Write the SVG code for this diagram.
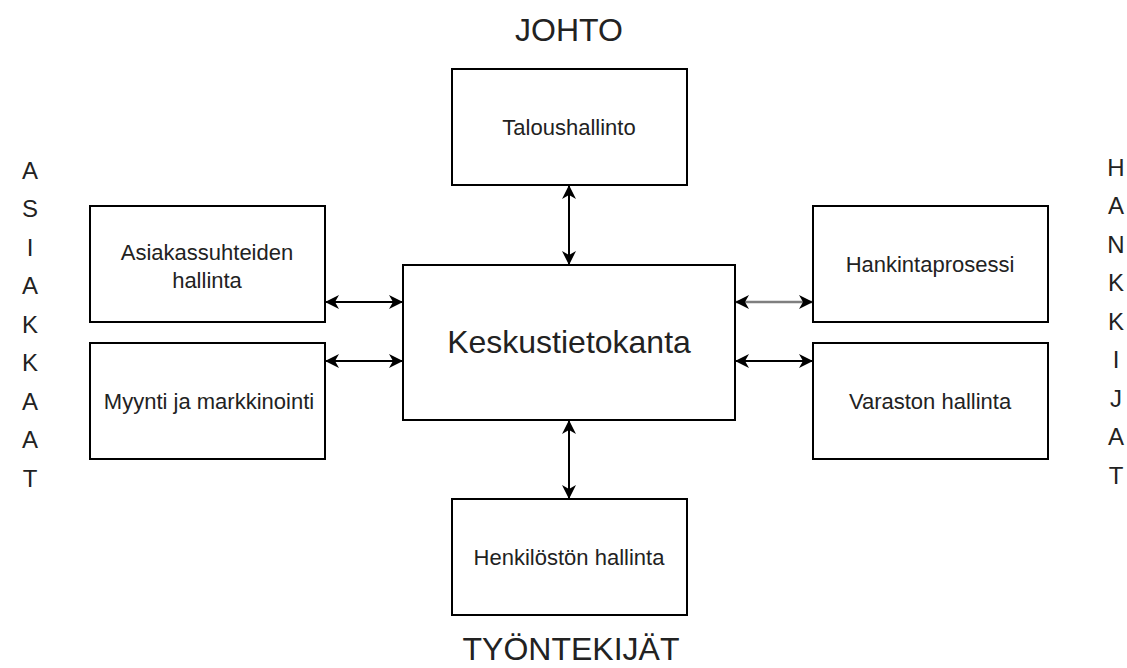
<svg xmlns="http://www.w3.org/2000/svg" width="1127" height="668" viewBox="0 0 1127 668">
  <style>
    .box { fill: #ffffff; stroke: #000000; stroke-width: 2; }
    .lbl { font-family: "Liberation Sans", Arial, sans-serif; fill: #222222; text-anchor: middle; }
    .small { font-size: 22px; }
    .big { font-size: 32px; }
    .side { font-size: 24px; }
    .link { fill: none; stroke: #000000; stroke-width: 2; marker-start: url(#head); marker-end: url(#head); }
    .link.grey { stroke: #7f7f7f; stroke-width: 2.5; }
  </style>
  <defs>
    <marker id="head" viewBox="0 0 14 14" refX="13" refY="7" markerWidth="14" markerHeight="14" markerUnits="userSpaceOnUse" orient="auto-start-reverse">
      <path d="M0,0 L14,7 L0,14 L4,7 z" fill="#000000"/>
    </marker>
  </defs>
  <rect width="1127" height="668" fill="#ffffff"/>

  <!-- outer labels -->
  <g id="labels">
    <text class="lbl big" x="569" y="41">JOHTO</text>
    <text class="lbl big" x="571" y="660">TYÖNTEKIJÄT</text>
    <text class="lbl side" x="30" y="179">A</text>
    <text class="lbl side" x="30" y="217">S</text>
    <text class="lbl side" x="30" y="256">I</text>
    <text class="lbl side" x="30" y="294">A</text>
    <text class="lbl side" x="30" y="333">K</text>
    <text class="lbl side" x="30" y="371">K</text>
    <text class="lbl side" x="30" y="410">A</text>
    <text class="lbl side" x="30" y="448">A</text>
    <text class="lbl side" x="30" y="487">T</text>
    <text class="lbl side" x="1116" y="176">H</text>
    <text class="lbl side" x="1116" y="214">A</text>
    <text class="lbl side" x="1116" y="253">N</text>
    <text class="lbl side" x="1116" y="291">K</text>
    <text class="lbl side" x="1116" y="330">K</text>
    <text class="lbl side" x="1116" y="368">I</text>
    <text class="lbl side" x="1116" y="407">J</text>
    <text class="lbl side" x="1116" y="445">A</text>
    <text class="lbl side" x="1116" y="484">T</text>
  </g>

  <g id="connectors">
    <line class="link" x1="569" y1="186" x2="569" y2="264"/>
    <line class="link" x1="569" y1="421" x2="569" y2="498"/>
    <line class="link" x1="326" y1="302" x2="402" y2="302"/>
    <line class="link" x1="326" y1="361" x2="402" y2="361"/>
    <line class="link grey" x1="736" y1="302" x2="812" y2="302"/>
    <line class="link" x1="736" y1="361" x2="812" y2="361"/>
  </g>

  <g id="central">
    <rect class="box" x="403" y="265" width="332" height="155"/>
    <text class="lbl big" x="569" y="353">Keskustietokanta</text>
  </g>
  <g id="talous">
    <rect class="box" x="452" y="69" width="235" height="116"/>
    <text class="lbl small" x="569" y="135">Taloushallinto</text>
  </g>
  <g id="asiakas">
    <rect class="box" x="90" y="206" width="235" height="116"/>
    <text class="lbl small" x="207" y="260">Asiakassuhteiden</text>
    <text class="lbl small" x="207" y="288">hallinta</text>
  </g>
  <g id="myynti">
    <rect class="box" x="90" y="343" width="235" height="116"/>
    <text class="lbl small" x="209" y="409">Myynti ja markkinointi</text>
  </g>
  <g id="hankinta">
    <rect class="box" x="813" y="206" width="235" height="116"/>
    <text class="lbl small" x="930" y="272">Hankintaprosessi</text>
  </g>
  <g id="varasto">
    <rect class="box" x="813" y="343" width="235" height="116"/>
    <text class="lbl small" x="930" y="409">Varaston hallinta</text>
  </g>
  <g id="henkilosto">
    <rect class="box" x="452" y="499" width="235" height="116"/>
    <text class="lbl small" x="569" y="565">Henkilöstön hallinta</text>
  </g>
</svg>
